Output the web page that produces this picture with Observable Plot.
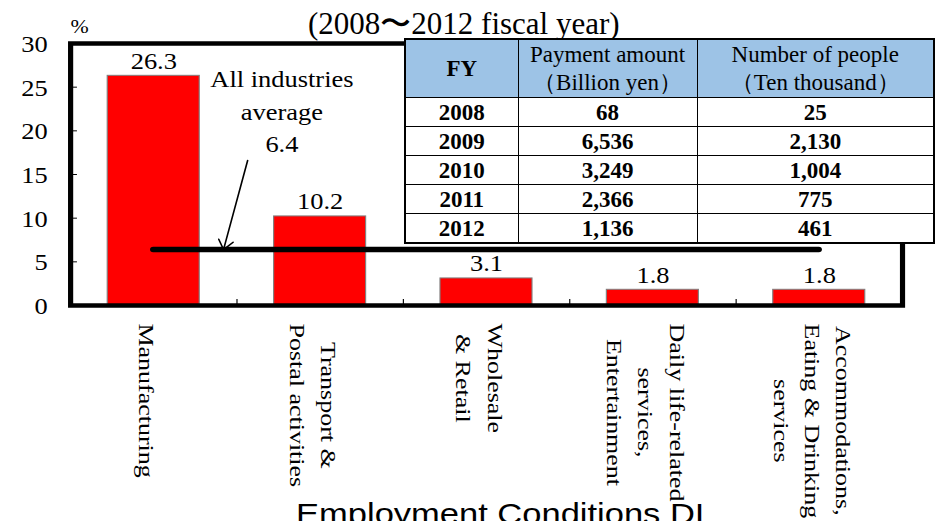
<!DOCTYPE html>
<html>
<head>
<meta charset="utf-8">
<script src="https://cdn.jsdelivr.net/npm/d3@7"></script>
<script src="https://cdn.jsdelivr.net/npm/@observablehq/plot@0.6"></script>
<style>
  html, body { margin: 0; padding: 0; background: #fff; }
  body {
    width: 935px; height: 521px; overflow: hidden; position: relative;
    font-family: "Liberation Serif", "Times New Roman", serif; color: #000;
  }
  /* the chart itself is drawn a little wide */
  #chart {
    position: absolute; left: 0; top: 0; width: 813px; height: 521px;
    transform: scaleX(1.15); transform-origin: 0 0;
  }
  #chart svg, #chart svg text { font-family: "Liberation Serif", "Times New Roman", serif; }
  #caption {
    position: absolute; left: 0; top: 499px; width: 870px; text-align: center;
    font-family: "Liberation Sans", Arial, sans-serif; font-size: 30px; line-height: 30px;
    white-space: nowrap;
  }
  #title {
    position: absolute; left: 308px; top: 9px; font-size: 31px; line-height: 30px;
    white-space: nowrap;
  }
  #table {
    position: absolute; left: 404px; top: 38px;
    border-collapse: collapse; table-layout: fixed; border: 2px solid #000;
    font-size: 23px; background: #fff;
  }
  #table th, #table td {
    border: 1px solid #000; padding: 0; text-align: center; white-space: nowrap;
  }
  #table th { background: #9dc3e6; font-weight: normal; line-height: 28px; height: 57px; }
  #table th.fy { font-weight: bold; }
  #table td { font-weight: bold; line-height: 27px; height: 28px; }
</style>
</head>
<body>
<div id="chart"></div>
<div id="title"></div>
<table id="table"></table>
<script>
// Share of each industry (%)
const industries = [
  "Manufacturing",
  "Transport & Postal activities",
  "Wholesale & Retail",
  "Daily life-related services, Entertainment",
  "Accommodations, Eating & Drinking services"
];
const industryLabelLines = [
  ["Manufacturing"],
  ["Transport &", "Postal activities"],
  ["Wholesale", "& Retail"],
  ["Daily life-related", "services,", "Entertainment"],
  ["Accommodations,", "Eating & Drinking", "services"]
];
const shares = [26.3, 10.2, 3.1, 1.8, 1.8];
const allIndustriesAverage = 6.4;
const yTicks = [0, 5, 10, 15, 20, 25, 30];
const captionText = "Employment Conditions DI";

// Subsidy table, fiscal years 2008-2012
const fiscalYears = ["2008", "2009", "2010", "2011", "2012"];
const paymentAmounts = [68, 6536, 3249, 2366, 1136];   // billion yen
const peopleCounts = [25, 2130, 1004, 775, 461];        // ten thousand
const tableHeaders = [["FY"], ["Payment amount", "（Billion yen）"], ["Number of people", "（Ten thousand）"]];

// ---- chart geometry ----
const serif = "Liberation Serif";
const W = 813, H = 521;
const margin = {top: 43, right: 28.7, bottom: 216, left: 60.9};
const innerW = W - margin.left - margin.right;
const innerH = H - margin.top - margin.bottom;
const barHalf = 0.2765;            // half bar width, in category steps
const labelFont = 22, labelStretch = [1.18, 0.85];

const rows = industries.map((name, i) => ({name, pos: i + 0.5, share: shares[i]}));

// annotation anchor (in data units) and arrow from it down to the average line
const note = {x: 1.27, y: 17.6};
const pointer = [{x1: 1.064, y1: 16.6, x2: 0.919, y2: allIndustriesAverage}];

const ctx = document.createElement("canvas").getContext("2d");
ctx.font = `${labelFont}px "${serif}"`;

const industryLabelMarks = industryLabelLines.map((lines, i) => {
  const len = d3.max(lines, l => ctx.measureText(l).width) * labelStretch[0];
  return Plot.text([lines.join("\n")], {
    x: () => i + 0.5, frameAnchor: "bottom", dx: -4, dy: 18 + len / 2,
    rotate: 90, textAnchor: "middle", lineAnchor: "middle",
    lineHeight: 1.45, fontSize: labelFont, fontFamily: serif
  });
});

const chart = Plot.plot({
  width: W, height: H,
  marginTop: margin.top, marginRight: margin.right,
  marginBottom: margin.bottom, marginLeft: margin.left,
  x: {domain: [0, industries.length], axis: null},
  y: {domain: [0, 30], axis: null, label: null},
  style: {fontFamily: serif, fontSize: "23px", color: "#000", background: "transparent", overflow: "visible"},
  marks: [
    Plot.rectY(rows, {
      x1: d => d.pos - barHalf, x2: d => d.pos + barHalf, y1: 0, y2: "share",
      fill: "#ff0000", stroke: "#808080", strokeWidth: 1
    }),
    Plot.frame({stroke: "#000", strokeWidth: 4.5}),
    Plot.tickY(yTicks, {y: d => d, insetRight: innerW - 6, stroke: "#000", strokeWidth: 1}),
    Plot.tickX(d3.range(1, industries.length), {x: d => d, insetTop: innerH - 6, stroke: "#000", strokeWidth: 1}),
    Plot.axisY(yTicks, {tickSize: 0, tickPadding: 20, fontSize: 23, fontFamily: serif, dy: 1, label: null}),
    Plot.ruleY([allIndustriesAverage], {
      x1: rows[0].pos, x2: rows[rows.length - 1].pos,
      stroke: "#000", strokeWidth: 5.5, strokeLinecap: "round"
    }),
    Plot.arrow(pointer, {
      x1: "x1", y1: "y1", x2: "x2", y2: "y2",
      stroke: "#000", strokeWidth: 1.4, headLength: 12, headAngle: 70
    }),
    Plot.text(rows, {
      x: "pos", y: "share", text: d => d.share.toFixed(1),
      lineAnchor: "bottom", dy: -7, fontSize: 23, fontFamily: serif
    }),
    Plot.text([`All industries\naverage\n${allIndustriesAverage}`], {
      x: () => note.x, y: () => note.y, lineAnchor: "bottom", lineHeight: 1.4,
      fontSize: 23, fontFamily: serif
    }),
    Plot.text(["%"], {frameAnchor: "top-left", dy: -11, lineAnchor: "bottom", fontSize: 19, fontFamily: serif}),
    ...industryLabelMarks
  ]
});

// lengthen the rotated industry labels along their reading direction
d3.select(chart).selectAll("text")
  .filter(function () { return /rotate\(90\)/.test(this.getAttribute("transform") || ""); })
  .attr("transform", function () {
    return this.getAttribute("transform") + ` scale(${labelStretch[0]},${labelStretch[1]})`;
  });

const chartBox = document.getElementById("chart");
chartBox.appendChild(chart);
const caption = document.createElement("div");
caption.id = "caption";
caption.textContent = captionText;
chartBox.appendChild(caption);

document.getElementById("title").textContent =
  `(${fiscalYears[0]}〜${fiscalYears[fiscalYears.length - 1]} fiscal year)`;

// subsidy table
const table = d3.select("#table");
const colgroup = table.append("colgroup");
[116, 180, 240].forEach(w => colgroup.append("col").style("width", w + "px"));
const head = table.append("tr");
tableHeaders.forEach((lines, j) => {
  const th = head.append("th").attr("class", j === 0 ? "fy" : null);
  lines.forEach((l, k) => { if (k) th.append("br"); th.append("span").text(l); });
});
const fmt = d3.format(",");
fiscalYears.forEach((fy, i) => {
  const tr = table.append("tr");
  tr.append("td").text(fy);
  tr.append("td").text(fmt(paymentAmounts[i]));
  tr.append("td").text(fmt(peopleCounts[i]));
});
</script>
</body>
</html>
